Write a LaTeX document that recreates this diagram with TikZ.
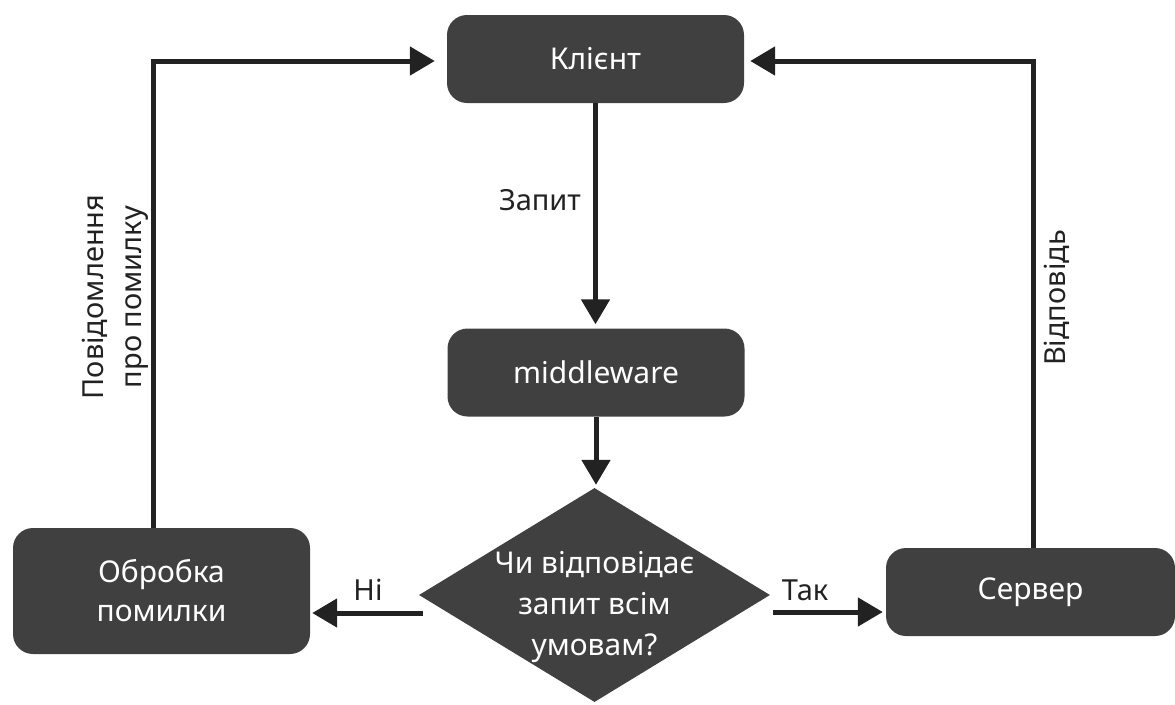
\documentclass[tikz,border=0pt]{standalone}
\usepackage{fontspec}
\setmainfont{Noto Sans}
\usetikzlibrary{shapes.geometric,arrows.meta,calc}
\definecolor{boxfill}{HTML}{404040}
\definecolor{ink}{HTML}{222222}
\begin{document}
\begin{tikzpicture}[x=1pt,y=-1pt,
  box/.style={fill=boxfill,rounded corners=20pt,minimum width=297pt,minimum height=88pt,text=white,font=\fontsize{30}{39}\selectfont,align=center,inner sep=0pt},
  decision/.style={diamond,fill=boxfill,minimum width=351pt,minimum height=214pt,inner sep=0pt},
  qtext/.style={text=white,font=\fontsize{30}{41}\selectfont,align=center,inner sep=0pt},
  arr/.style={draw=ink,line width=5pt,-{Triangle[length=25pt,width=28pt]}},
  lbl/.style={text=ink,font=\fontsize{29}{38}\selectfont,align=center,inner sep=0pt}]
\useasboundingbox (0,0) rectangle (1175,704);
% nodes
\node[box] (client) at (595.5,59) {Клієнт};
\node[box] (mw) at (596,372.5) {middleware};
\node[decision] (d) at (594.5,595) {};
\node[qtext] (q) at (594.5,607) {Чи відповідає\\запит всім\\умовам?};
\node[box,minimum height=126pt] (err) at (161.5,591) {Обробка\\помилки};
\node[box,minimum width=289pt] (srv) at (1030.5,592) {Сервер};
% labels
\node[lbl] (zapyt) at (540,200) {Запит};
\node[lbl] (ni) at (368,590) {Ні};
\node[lbl] (tak) at (805,590) {Так};
\node[lbl,rotate=90] (errmsg) at (115,297) {Повідомлення\\про помилку};
\node[lbl,rotate=90] (resp) at (1057,298) {Відповідь};
% connectors
\draw[arr,shorten >=4pt] (client.south) -- (client.south |- mw.north);
\draw[arr,shorten >=3pt] (mw.south) -- (mw.south |- d.north);
\coordinate (nstart) at ([shift={(4pt,-18pt)}]d.west);
\draw[arr,shorten >=2pt] (nstart) -- (nstart -| err.east);
\coordinate (tstart) at ([shift={(3pt,-17pt)}]d.east);
\draw[arr,shorten >=3pt] (tstart) -- (tstart -| srv.west);
\coordinate (ltop) at (153,61);
\draw[arr,shorten >=12pt] (err.north -| ltop) -- (ltop) -- (ltop -| client.west);
\coordinate (rtop) at (1033,61);
\draw[arr,shorten >=6pt] (srv.north -| rtop) -- (rtop) -- (rtop -| client.east);
\end{tikzpicture}
\end{document}
